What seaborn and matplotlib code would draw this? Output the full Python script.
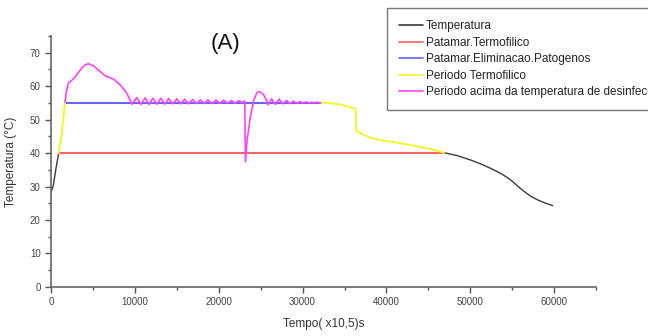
import matplotlib
matplotlib.use("Agg")
import matplotlib.pyplot as plt
import seaborn as sns
from matplotlib.ticker import MultipleLocator

# Temperatura (black) - start and end portions
temp_ini_x = [0, 280, 600, 920]
temp_ini_y = [28.2, 30.4, 35.5, 40.0]
temp_fim_x = [46870, 47270, 48500, 50060, 51300, 52450, 53640, 54400, 55040,
              55700, 56430, 57200, 58030, 59000, 59820]
temp_fim_y = [40.1, 39.9, 39.2, 37.9, 36.7, 35.4, 33.9, 32.7, 31.5,
              30.0, 28.5, 27.1, 26.0, 25.0, 24.3]

# Patamares (thresholds)
termo_x = [920, 46870]
termo_y = [40, 40]
patog_x = [1670, 32140]
patog_y = [55, 55]

# Periodo Termofilico (yellow)
per_ini_x = [920, 1280, 1670]
per_ini_y = [40.0, 45.9, 55.2]
per_fim_x = [32140, 32530, 33330, 34530, 35520, 36320, 36400, 36920, 38110,
             39310, 41300, 43290, 45280, 46870]
per_fim_y = [55.0, 55.1, 54.9, 54.5, 53.8, 53.2, 46.7, 45.9, 44.6,
             43.9, 43.1, 42.2, 41.2, 40.1]

# Periodo acima da temperatura de desinfeccao (magenta)
desinf_x = [1670, 1850, 2070, 2470, 3070, 3670, 4100, 4460, 5060, 5850, 6450,
            7450, 8240, 9040, 9640,
            10230, 10730, 11230, 11690, 12150, 12620, 13100, 13560, 14020,
            14510, 15010, 15470, 15930, 16400, 16880, 17340, 17800, 18260,
            18720, 19190, 19670, 20130, 20590, 21040, 21500, 21940, 22380,
            22800, 23100, 23180, 23380, 23780, 24180, 24570, 24890, 25360,
            25770, 25900, 26300, 26750, 27200, 27650, 28100, 28500, 28900,
            29300, 29700, 30050, 30400, 30750, 31100, 31400, 31700, 32140]
desinf_y = [55.2, 58.5, 60.9, 61.7, 63.4, 65.4, 66.4, 66.7, 66.1, 64.4, 63.1,
            62.1, 60.4, 57.9, 54.6,
            56.6, 54.5, 56.5, 54.5, 56.4, 54.6, 56.4, 54.6, 56.3,
            54.7, 56.2, 54.7, 56.1, 54.7, 56.0, 54.8, 55.9, 54.8,
            55.9, 54.8, 55.8, 54.9, 55.8, 54.9, 55.7, 54.9, 55.7,
            55.0, 55.6, 37.4, 43.9, 50.9, 55.9, 58.1, 58.4, 57.4,
            55.4, 54.4, 56.2, 54.5, 56.1, 54.7, 55.7, 54.8, 55.5,
            54.9, 55.4, 54.9, 55.3, 54.9, 55.2, 55.0, 55.2, 55.0]

x_ticks = [0, 10000, 20000, 30000, 40000, 50000, 60000]
y_ticks = [0, 10, 20, 30, 40, 50, 60, 70]

sns.set_style("white")
plt.rcParams['font.family'] = ['Liberation Sans', 'DejaVu Sans']

fig = plt.figure(figsize=(6.48, 3.36), dpi=100)
ax = fig.add_axes([0.0787, 0.146, 0.8413, 0.747])

kw = dict(ax=ax, sort=False, estimator=None)
sns.lineplot(x=temp_ini_x, y=temp_ini_y, color='#3a3a3a', lw=1.0, label='Temperatura', **kw)
sns.lineplot(x=temp_fim_x, y=temp_fim_y, color='#3a3a3a', lw=1.0, **kw)
sns.lineplot(x=termo_x, y=termo_y, color='#ff6464', lw=1.5, label='Patamar.Termofilico', **kw)
sns.lineplot(x=patog_x, y=patog_y, color='#6464ff', lw=1.5, label='Patamar.Eliminacao.Patogenos', **kw)
sns.lineplot(x=per_ini_x, y=per_ini_y, color='#f4f42c', lw=1.4, label='Periodo Termofilico', **kw)
sns.lineplot(x=per_fim_x, y=per_fim_y, color='#f4f42c', lw=1.4, **kw)
sns.lineplot(x=desinf_x, y=desinf_y, color='#ff44ff', lw=1.2,
             label='Periodo acima da temperatura de desinfecção', **kw)

handles, labels = ax.get_legend_handles_labels()
if ax.get_legend() is not None:
    ax.get_legend().remove()

ax.set_xlim(0, 65000)
ax.set_ylim(0, 75)
ax.set_xticks(x_ticks)
ax.set_yticks(y_ticks)
ax.xaxis.set_minor_locator(MultipleLocator(5000))
ax.yaxis.set_minor_locator(MultipleLocator(5))
ax.tick_params(which='major', direction='out', length=4, width=1, color='#555555',
               labelsize=7, labelcolor='#444444', bottom=True, left=True)
ax.tick_params(which='minor', direction='out', length=2, width=1, color='#555555',
               bottom=True, left=True)
for side in ['top', 'right']:
    ax.spines[side].set_visible(False)
for side in ['left', 'bottom']:
    ax.spines[side].set_color('#666666')
    ax.spines[side].set_linewidth(1.2)

ax.set_xlabel('Tempo( x10,5)s', fontsize=8.5, color='#333333', labelpad=8)
ax.set_ylabel('Temperatura (°C)', fontsize=8.5, color='#333333', labelpad=9)

fig.text(226 / 648, 1 - 43 / 336, '(A)', fontsize=16, ha='center', va='center', color='#111111')

# legend runs off the right edge, as in the reference
leg = fig.legend(handles, labels, loc='upper left', bbox_to_anchor=(0.597, 0.975),
                 borderaxespad=0, fontsize=8.5, handlelength=2.1, handletextpad=0.2,
                 labelspacing=0.38, borderpad=1.0, fancybox=False, frameon=True)
leg.get_frame().set_edgecolor('#555555')
leg.get_frame().set_linewidth(1.0)
for t in leg.get_texts():
    t.set_color('#222222')
for h in leg.get_lines():
    h.set_linewidth(1.2)

fig.savefig('out.png', dpi=100)
